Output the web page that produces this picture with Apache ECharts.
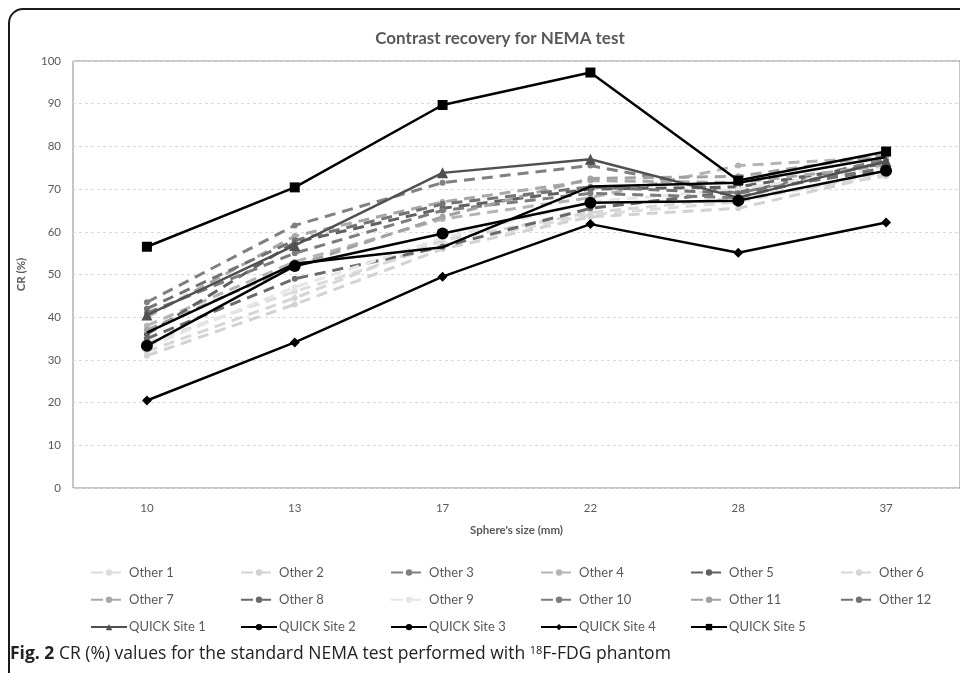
<!DOCTYPE html>
<html><head><meta charset="utf-8">
<script src="https://cdn.jsdelivr.net/npm/echarts@6/dist/echarts.min.js"></script>
<style>html,body{margin:0;padding:0;background:#fff}#c{width:960px;height:673px}</style>
</head><body><div id="c"></div>
<script>
const categories = ['10', '13', '17', '22', '28', '37'];
const other1  = [34, 46, 57, 64, 67, 74];
const other2  = [31, 43, 56, 63.5, 65.5, 73.5];
const other3  = [43.5, 61.5, 71.5, 75.5, 69, 77];
const other4  = [38, 53, 63, 68, 75.5, 77.5];
const other5  = [36, 57.5, 65.5, 70, 70.5, 76];
const other6  = [32, 44.5, 58, 64.5, 68, 73];
const other7  = [40, 59, 67, 72, 71.5, 75.5];
const other8  = [35, 49, 56.5, 65.5, 69.5, 74.5];
const other9  = [33, 47, 58.5, 67, 70, 75];
const other10 = [41, 55, 65, 69, 68, 76.5];
const other11 = [37, 52, 63.5, 72.5, 73, 78];
const other12 = [42, 58, 66.5, 70.5, 69, 75];
const quick1 = [40.5, 56.8, 73.8, 77, 68, 76.5];
const quick2 = [33.3, 52, 59.6, 66.8, 67.3, 74.3];
const quick3 = [36.4, 52.5, 56.4, 70.6, 71.5, 77.5];
const quick4 = [20.5, 34.1, 49.5, 61.8, 55.1, 62.2];
const quick5 = [56.5, 70.4, 89.7, 97.3, 72, 78.8];
const otherNames = ['Other 1','Other 2','Other 3','Other 4','Other 5','Other 6','Other 7','Other 8','Other 9','Other 10','Other 11','Other 12'];
const quickNames = ['QUICK Site 1','QUICK Site 2','QUICK Site 3','QUICK Site 4','QUICK Site 5'];
const otherData = [other1,other2,other3,other4,other5,other6,other7,other8,other9,other10,other11,other12];
const quickData = [quick1,quick2,quick3,quick4,quick5];
const otherColors = ['#dcdcdc','#d2d2d2','#808080','#b4b4b4','#606060','#d6d6d6','#a8a8a8','#6a6a6a','#e6e6e6','#7c7c7c','#a2a2a2','#737373'];
const quickColors = ['#505050','#000','#000','#000','#000'];
const quickSymbols = ['triangle','circle','none','diamond','rect'];
const quickSizes = [11, 12, 0, 10, 10];
const yMin = 0, yMax = 100, yStep = 10;
const chartTitle = 'Contrast recovery for NEMA test';
const xTitle = "Sphere's size (mm)";
const yTitle = 'CR (%)';

const FONT = 'Lato';
const series = [];
otherNames.forEach((n,i)=>{
  series.push({name:n,type:'line',data:otherData[i],symbol:'circle',symbolSize:6,
    lineStyle:{color:otherColors[i],width:3,type:[11,7]},itemStyle:{color:otherColors[i]},z:2});
});
quickNames.forEach((n,i)=>{
  series.push({name:n,type:'line',data:quickData[i],symbol:quickSymbols[i],symbolSize:quickSizes[i],
    showSymbol:quickSymbols[i]!=='none',
    lineStyle:{color:quickColors[i],width:2.5,type:'solid'},itemStyle:{color:quickColors[i]},z:3});
});
const allNames = otherNames.concat(quickNames);
const legends = allNames.map((n,i)=>{
  const lg = {
    data:[n], left: 90 + 150*(i%6), top: 566 + 27.3*Math.floor(i/6),
    itemWidth:36, itemHeight:8, itemGap:0, padding:0,
    textStyle:{color:'#595959',fontSize:13,fontFamily:FONT,padding:[0,0,0,-3]}
  };
  if (i < otherNames.length) lg.lineStyle = {type:[12,6]};
  return lg;
});
const chart = echarts.init(document.getElementById('c'));
chart.setOption({
  animation:false,
  backgroundColor:'#fff',
  title:{text:chartTitle,left:495,top:25,textAlign:'center',
    textStyle:{fontFamily:FONT,fontSize:17,fontWeight:'bold',color:'#595959'}},
  legend:legends,
  grid:{left:73,top:61,width:899,height:427,show:true,borderColor:'#8c8c8c',borderWidth:1,backgroundColor:'transparent'},
  xAxis:{type:'category',data:categories,boundaryGap:true,
    name:xTitle,nameLocation:'middle',nameGap:36,
    nameTextStyle:{fontFamily:FONT,fontSize:11.5,fontWeight:'bold',color:'#595959',align:'center'},
    axisLine:{show:false},axisTick:{show:false},
    axisLabel:{fontFamily:FONT,fontSize:11.5,color:'#595959',margin:14}},
  yAxis:{type:'value',min:yMin,max:yMax,interval:yStep,
    name:yTitle,nameLocation:'middle',nameGap:46,nameRotate:90,
    nameTextStyle:{fontFamily:FONT,fontSize:11.5,fontWeight:'bold',color:'#595959'},
    axisLine:{show:false},axisTick:{show:false},
    axisLabel:{fontFamily:FONT,fontSize:11.5,color:'#595959',margin:12},
    splitLine:{lineStyle:{color:'#d9d9d9',type:[3,3],width:1}}},
  graphic:[
    {type:'rect',shape:{x:9,y:9,width:1100,height:1100,r:14},style:{fill:'none',stroke:'#1a1a1a',lineWidth:2},z:100},
    {type:'text',left:10,top:645,style:{
      text:'{b|Fig. 2} CR (%) values for the standard NEMA test performed with {s|18}F-FDG phantom',
      rich:{b:{fontWeight:'bold',fontSize:17.5,fontFamily:'Open Sans',fill:'#222'},
            s:{fontSize:11,fontFamily:'Open Sans',fill:'#222',verticalAlign:'top',padding:[0,0,8,0]}},
      fontSize:17.5,fontFamily:'Open Sans',fill:'#222'}}
  ],
  series:series
});
</script></body></html>
